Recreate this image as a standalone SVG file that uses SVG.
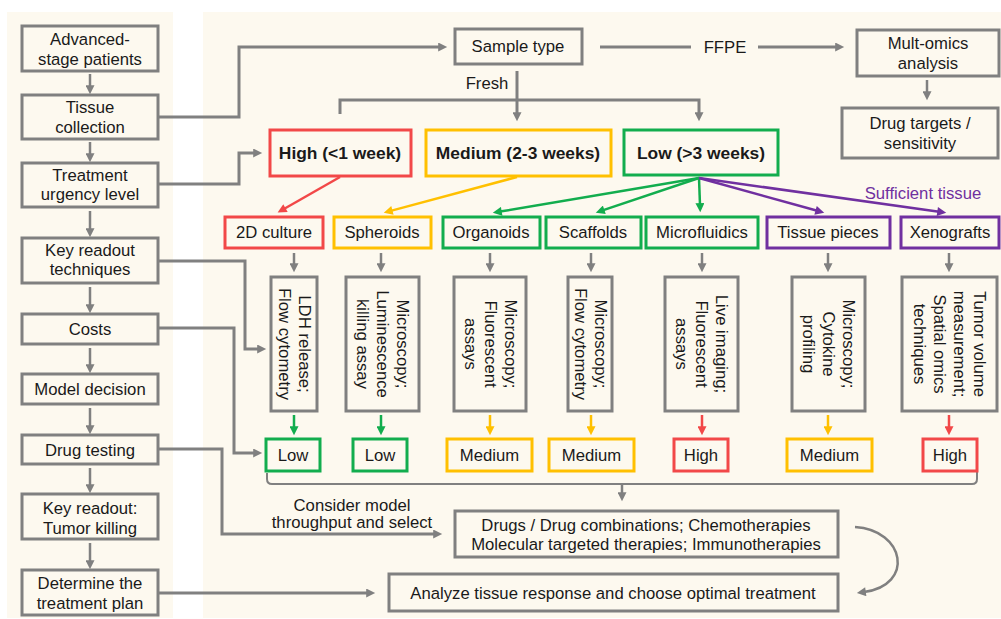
<svg xmlns="http://www.w3.org/2000/svg" width="1001" height="619" viewBox="0 0 1001 619">
<style>
text{font-family:"Liberation Sans",Arial,sans-serif;font-size:16.7px;fill:#1a1a1a;text-anchor:middle}
.b{font-weight:bold;font-size:17.4px}
.g{fill:none;stroke:#808080;stroke-width:3}
.gl{fill:none;stroke:#808080;stroke-width:2.5}
.r{fill:none;stroke:#F24848;stroke-width:3}
.y{fill:none;stroke:#FFC000;stroke-width:3}
.gr{fill:none;stroke:#12AD4E;stroke-width:3}
.p{fill:none;stroke:#7030A0;stroke-width:3}
.cg{fill:none;stroke:#808080;stroke-width:3;marker-end:url(#ag)}
.cgl{fill:none;stroke:#808080;stroke-width:2.5;marker-end:url(#ag)}
.cr{fill:none;stroke:#F24848;stroke-width:2.5;marker-end:url(#ar)}
.cy{fill:none;stroke:#FFC000;stroke-width:2.5;marker-end:url(#ay)}
.cgr{fill:none;stroke:#12AD4E;stroke-width:2.5;marker-end:url(#agr)}
.cp{fill:none;stroke:#7030A0;stroke-width:2.5;marker-end:url(#ap)}
.bg{fill:#FDF9EF}
</style>
<defs>
<marker id="ag" viewBox="0 0 10 10" refX="2" refY="5" markerWidth="10" markerHeight="9" markerUnits="userSpaceOnUse" orient="auto"><path d="M0,0L10,5L0,10z" fill="#808080"/></marker>
<marker id="ar" viewBox="0 0 10 10" refX="2" refY="5" markerWidth="10" markerHeight="9" markerUnits="userSpaceOnUse" orient="auto"><path d="M0,0L10,5L0,10z" fill="#F24848"/></marker>
<marker id="ay" viewBox="0 0 10 10" refX="2" refY="5" markerWidth="10" markerHeight="9" markerUnits="userSpaceOnUse" orient="auto"><path d="M0,0L10,5L0,10z" fill="#FFC000"/></marker>
<marker id="agr" viewBox="0 0 10 10" refX="2" refY="5" markerWidth="10" markerHeight="9" markerUnits="userSpaceOnUse" orient="auto"><path d="M0,0L10,5L0,10z" fill="#12AD4E"/></marker>
<marker id="ap" viewBox="0 0 10 10" refX="2" refY="5" markerWidth="10" markerHeight="9" markerUnits="userSpaceOnUse" orient="auto"><path d="M0,0L10,5L0,10z" fill="#7030A0"/></marker>
</defs>
<rect width="1001" height="619" fill="#fff"/>
<rect class="bg" x="7" y="12" width="166" height="606"/>
<rect class="bg" x="203" y="12" width="798" height="606"/>

<g id="connectors">
<path class="cgl" d="M90,74V87"/>
<path class="cgl" d="M90,142V155"/>
<path class="cgl" d="M90,211V230"/>
<path class="cgl" d="M90,287V306"/>
<path class="cgl" d="M90,348V366"/>
<path class="cgl" d="M90,408V427"/>
<path class="cgl" d="M90,468V486"/>
<path class="cgl" d="M90,543V562"/>
<path class="cg" d="M158,117H239V47H440"/>
<path class="cg" d="M158,184H239V153H255"/>
<path class="cg" d="M517,71V114"/>
<path class="cg" d="M340,114V100H699V114"/>
<path class="g" d="M600,47H691"/>
<path class="cg" d="M758,47H837"/>
<path class="cgl" d="M927,80V93"/>
<path class="cr" d="M340,177L283.9,209"/>
<path class="cy" d="M517,177L390.7,210.9"/>
<path class="cgr" d="M699,178L499.9,211.6"/>
<path class="cgr" d="M699,178L602.6,210.4"/>
<path class="cgr" d="M699,178L700,205"/>
<path class="cp" d="M699,178L817.3,210.8"/>
<path class="cp" d="M699,178L939.1,211.8"/>
<path class="cgl" d="M294,253V265"/>
<path class="cgl" d="M381,253V265"/>
<path class="cgl" d="M490,253V265"/>
<path class="cgl" d="M591,253V265"/>
<path class="cgl" d="M702,253V265"/>
<path class="cgl" d="M828,253V265"/>
<path class="cgl" d="M949,253V265"/>
<path class="cgr" d="M294,415V428"/>
<path class="cgr" d="M381,415V428"/>
<path class="cy" d="M490,415V428"/>
<path class="cy" d="M591,415V428"/>
<path class="cr" d="M702,415V428"/>
<path class="cy" d="M828,415V428"/>
<path class="cr" d="M949,415V428"/>
<path fill="none" stroke="#808080" stroke-width="2" d="M267,473V479Q267,484 272,484H972Q977,484 977,479V470"/>
<path class="cgl" d="M622,484V494"/>
<path class="cg" d="M158,261H245V349H259"/>
<path class="cg" d="M158,328H234V453H255"/>
<path class="cg" d="M158,449H222V534H435"/>
<path class="cg" d="M158,593H368"/>
<path class="cgl" d="M855,527C905,530 915,585 864,592"/>
</g>

<g id="n-advanced"><rect class="g" x="22" y="26" width="136" height="45"/><text x="90" y="45">Advanced-</text><text x="90" y="65">stage patients</text></g>
<g id="n-tissue"><rect class="g" x="22" y="95" width="136" height="44"/><text x="90" y="113">Tissue</text><text x="90" y="133">collection</text></g>
<g id="n-urgency"><rect class="g" x="22" y="163" width="136" height="44"/><text x="90" y="181">Treatment</text><text x="90" y="200">urgency level</text></g>
<g id="n-readout"><rect class="g" x="22" y="238" width="136" height="45"/><text x="90" y="256">Key readout</text><text x="90" y="275">techniques</text></g>
<g id="n-costs"><rect class="g" x="22" y="314" width="136" height="30"/><text x="90" y="335">Costs</text></g>
<g id="n-model"><rect class="g" x="22" y="374" width="136" height="30"/><text x="90" y="395">Model decision</text></g>
<g id="n-drug"><rect class="g" x="22" y="435" width="136" height="29"/><text x="90" y="456">Drug testing</text></g>
<g id="n-killing"><rect class="g" x="22" y="494" width="136" height="45"/><text x="90" y="514">Key readout:</text><text x="90" y="534">Tumor killing</text></g>
<g id="n-plan"><rect class="g" x="22" y="570" width="136" height="45"/><text x="90" y="589">Determine the</text><text x="90" y="609">treatment plan</text></g>

<g id="n-sample"><rect class="g" x="455" y="29" width="127" height="35"/><text x="518" y="52">Sample type</text></g>
<g id="l-ffpe"><text x="725" y="53">FFPE</text></g>
<g id="l-fresh"><text x="487" y="89">Fresh</text></g>
<g id="n-omics"><rect class="g" x="857" y="30" width="142" height="46"/><text x="928" y="49">Mult-omics</text><text x="928" y="69">analysis</text></g>
<g id="n-targets"><rect class="g" x="842" y="108" width="156" height="50"/><text x="920" y="129">Drug targets /</text><text x="920" y="149">sensitivity</text></g>

<g id="n-high"><rect class="r" x="270" y="130" width="141" height="46"/><text class="b" x="340" y="159">High (&lt;1 week)</text></g>
<g id="n-medium"><rect class="y" x="426" y="130" width="185" height="46"/><text class="b" x="518" y="159">Medium (2-3 weeks)</text></g>
<g id="n-low"><rect class="gr" x="624" y="130" width="154" height="45"/><text class="b" x="701" y="159">Low (&gt;3 weeks)</text></g>
<g id="l-sufficient"><text x="923" y="199" style="fill:#7030A0">Sufficient tissue</text></g>

<g id="n-2d"><rect class="r" x="225" y="217" width="98" height="31"/><text x="274" y="238">2D culture</text></g>
<g id="n-spheroids"><rect class="y" x="334" y="217" width="97" height="31"/><text x="382" y="238">Spheroids</text></g>
<g id="n-organoids"><rect class="gr" x="443" y="217" width="97" height="31"/><text x="491" y="238">Organoids</text></g>
<g id="n-scaffolds"><rect class="gr" x="546" y="217" width="95" height="31"/><text x="593" y="238">Scaffolds</text></g>
<g id="n-microfluidics"><rect class="gr" x="646" y="217" width="112" height="31"/><text x="702" y="238">Microfluidics</text></g>
<g id="n-pieces"><rect class="p" x="767" y="217" width="123" height="31"/><text x="828" y="238">Tissue pieces</text></g>
<g id="n-xeno"><rect class="p" x="901" y="217" width="98" height="31"/><text x="950" y="238">Xenografts</text></g>

<g id="n-r1"><rect class="g" x="271" y="277" width="46" height="134"/><text transform="translate(294,344) rotate(90)"><tspan x="0" y="-4.5">LDH release;</tspan><tspan x="0" y="15.5">Flow cytometry</tspan></text></g>
<g id="n-r2"><rect class="g" x="346" y="277" width="73" height="134"/><text transform="translate(382,344) rotate(90)"><tspan x="0" y="-14.5">Microscopy;</tspan><tspan x="0" y="5.5">Luminescence</tspan><tspan x="0" y="25.5">killing  assay</tspan></text></g>
<g id="n-r3"><rect class="g" x="454" y="277" width="72" height="134"/><text transform="translate(490,344) rotate(90)"><tspan x="0" y="-14.5">Microscopy;</tspan><tspan x="0" y="5.5">Fluorescent</tspan><tspan x="0" y="25.5">assays</tspan></text></g>
<g id="n-r4"><rect class="g" x="568" y="277" width="44" height="134"/><text transform="translate(590,344) rotate(90)"><tspan x="0" y="-4.5">Microscopy;</tspan><tspan x="0" y="15.5">Flow cytometry</tspan></text></g>
<g id="n-r5"><rect class="g" x="665" y="277" width="73" height="134"/><text transform="translate(701.5,344) rotate(90)"><tspan x="0" y="-14.5">Live imaging;</tspan><tspan x="0" y="5.5">Fluorescent</tspan><tspan x="0" y="25.5">assays</tspan></text></g>
<g id="n-r6"><rect class="g" x="792" y="277" width="73" height="134"/><text transform="translate(828.5,344) rotate(90)"><tspan x="0" y="-14.5">Microscopy;</tspan><tspan x="0" y="5.5">Cytokine</tspan><tspan x="0" y="25.5">profiling</tspan></text></g>
<g id="n-r7"><rect class="g" x="902" y="277" width="95" height="134"/><text transform="translate(949.5,344) rotate(90)"><tspan x="0" y="-24.5">Tumor volume</tspan><tspan x="0" y="-4.5">measurement;</tspan><tspan x="0" y="15.5">Spatial omics</tspan><tspan x="0" y="35.5">techniques</tspan></text></g>

<g id="n-t1"><rect class="gr" x="266" y="439" width="54" height="32"/><text x="293" y="461">Low</text></g>
<g id="n-t2"><rect class="gr" x="353" y="439" width="54" height="32"/><text x="380" y="461">Low</text></g>
<g id="n-t3"><rect class="y" x="447" y="439" width="85" height="32"/><text x="489.5" y="461">Medium</text></g>
<g id="n-t4"><rect class="y" x="549" y="439" width="85" height="32"/><text x="591.5" y="461">Medium</text></g>
<g id="n-t5"><rect class="r" x="674" y="439" width="54" height="32"/><text x="701" y="461">High</text></g>
<g id="n-t6"><rect class="y" x="787" y="439" width="85" height="32"/><text x="829.5" y="461">Medium</text></g>
<g id="n-t7"><rect class="r" x="923" y="439" width="54" height="32"/><text x="950" y="461">High</text></g>

<g id="l-consider"><text x="352" y="511">Consider model</text><text x="352" y="528">throughput and select</text></g>
<g id="n-drugs"><rect class="g" x="455" y="511" width="383" height="46"/><text x="646" y="531">Drugs / Drug combinations; Chemotherapies</text><text x="646" y="550">Molecular targeted therapies; Immunotherapies</text></g>
<g id="n-analyze"><rect class="g" x="389" y="574" width="449" height="37"/><text x="613" y="599">Analyze tissue response and choose optimal treatment</text></g>
</svg>
